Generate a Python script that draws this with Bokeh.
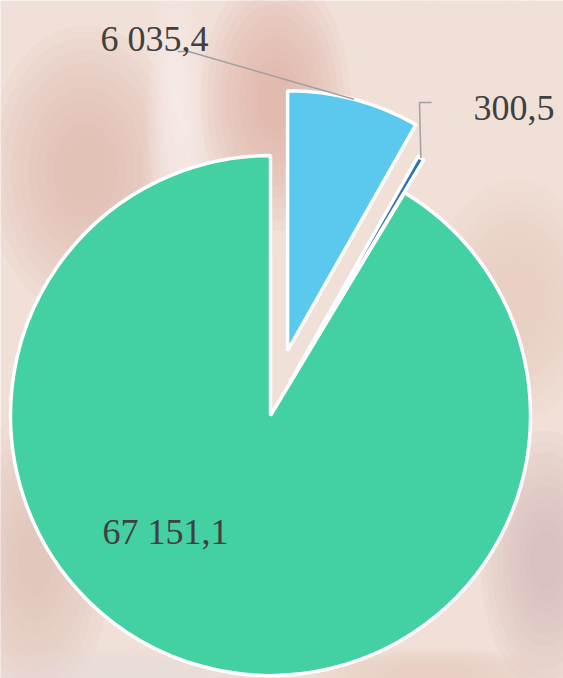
import numpy as np
from bokeh.plotting import figure
from bokeh.models import Range1d, ColumnDataSource
from bokeh.embed import file_html
from bokeh.resources import INLINE
from bokeh.core.properties import value

# ---- data ----
values = [6035.4, 300.5, 67151.1]
labels = ["6 035,4", "300,5", "67 151,1"]
colors = ["#5BC9EE", "#2E75B6", "#43D0A3"]

# ---- layout / style (reference pixel space, y measured from top) ----
W, H = 563, 678
CX, CY, R = 270, 415, 260
explode = [67, 38, 0]
label_pos = [(100, 38), (473, 107), (102, 531)]
leader_start = [[(177, 51), (188, 51)], [(431, 102), (419, 102)], None]

p = figure(width=W, height=H, x_range=Range1d(0, W), y_range=Range1d(0, H),
           output_backend="svg", toolbar_location=None, min_border=0,
           x_axis_location=None, y_axis_location=None)
p.grid.visible = False
p.outline_line_color = None
p.background_fill_color = "#F0E0D7"
p.border_fill_color = "#F0E0D7"

def fy(y):
    return H - y

# soft background patches imitating the blurred banknote photo
blobs = [
    (85, 170, 200, 290, "#DDB2AB"),
    (175, 130, 60, 320, "#FDF8F8"),
    (275, 100, 150, 260, "#D9A5A0"),
    (470, 50, 280, 150, "#F6E8DE"),
    (515, 300, 170, 240, "#E5C6BC"),
    (35, 560, 150, 300, "#DDB7B1"),
    (545, 560, 130, 260, "#D4B2AC"),
    (130, 672, 320, 50, "#ECDFDD"),
    (430, 672, 260, 50, "#E4CAC0"),
]
n = 10
for (bx, by, bw, bh, bc) in blobs:
    for k in range(n):
        s = 1 - 0.085 * k
        p.ellipse(x=bx, y=fy(by), width=bw * s, height=bh * s,
                  fill_color=bc, fill_alpha=0.09, line_color=None)

total = sum(values)
cum = 0.0
xs, ys, sa, ea, mids = [], [], [], [], []
for v, d in zip(values, explode):
    t0 = cum / total * 2 * np.pi
    cum += v
    t1 = cum / total * 2 * np.pi
    tm = (t0 + t1) / 2
    cx = CX + d * np.sin(tm)
    cy = fy(CY) + d * np.cos(tm)
    xs.append(cx); ys.append(cy)
    sa.append(np.pi / 2 - t1); ea.append(np.pi / 2 - t0)
    mids.append((cx + R * np.sin(tm), cy + R * np.cos(tm)))

src = ColumnDataSource(dict(x=xs, y=ys, start=sa, end=ea, color=colors))
p.wedge(x="x", y="y", radius=R, start_angle="start", end_angle="end",
        fill_color="color", line_color="white", line_width=3.5, source=src)

for i, ls in enumerate(leader_start):
    if ls is None:
        continue
    lx = [pt[0] for pt in ls] + [mids[i][0]]
    ly = [fy(pt[1]) for pt in ls] + [mids[i][1]]
    p.line(lx, ly, line_color="#A0A0A0", line_width=1.5)

p.text(x=[lp[0] for lp in label_pos], y=[fy(lp[1]) for lp in label_pos], text=labels,
       text_font=value("Liberation Serif"), text_font_size="36px",
       text_color="#404040", text_baseline="alphabetic", text_align="left")

open("out.html", "w").write(file_html(p, INLINE))
